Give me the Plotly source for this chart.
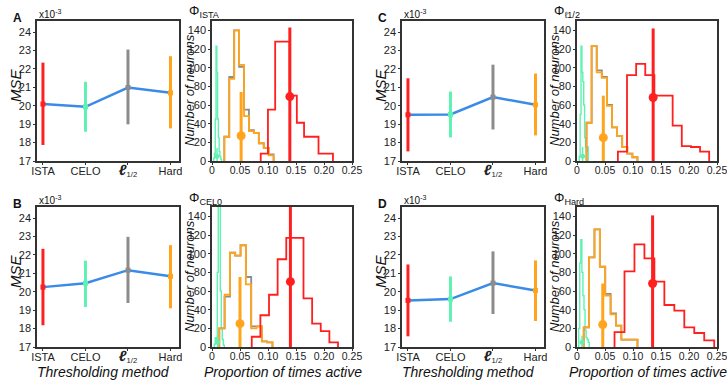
import numpy as np
import plotly.graph_objects as go

W, H = 727, 381

methods = ["ISTA", "CELO", "l1/2", "Hard"]
tick_text = ["ISTA", "CELO",
             "<span style='font-size:15px'><b><i>ℓ</i></b></span><sub>1/2</sub>", "Hard"]
colors = ["#ff1f1f", "#5ef2b2", "#8c8c8c", "#ffa41c"]
blue = "#3a8ae8"

# MSE (x10^-3): mean, bottom and top of each bar
mse_mean_A = [20.09, 19.94, 20.99, 20.70]
mse_lo_A = [17.87, 18.59, 18.99, 18.77]
mse_hi_A = [22.34, 21.30, 23.05, 22.69]
mse_mean_B = [20.25, 20.46, 21.17, 20.84]
mse_lo_B = [18.18, 19.17, 19.39, 19.10]
mse_hi_B = [22.33, 21.69, 22.98, 22.53]
mse_mean_C = [19.51, 19.53, 20.47, 20.05]
mse_lo_C = [17.52, 18.28, 18.71, 18.39]
mse_hi_C = [21.49, 20.77, 22.23, 21.75]
mse_mean_D = [19.53, 19.60, 20.47, 20.07]
mse_lo_D = [17.58, 18.37, 18.79, 18.41]
mse_hi_D = [21.48, 20.83, 22.19, 21.70]

# histograms of proportion of times active: [min, max] and counts of 10 bins
# order: ISTA, CELO, l1/2, Hard
span_A = [[0.087, 0.216], [0.003, 0.017], [0.022, 0.110], [0.022, 0.110]]
counts_A = [[8, 55, 128, 128, 70, 41, 26, 26, 8, 8],
            [3, 8, 45, 123, 95, 45, 25, 10, 5, 2],
            [26, 90, 140, 101, 55, 33, 30, 19, 14, 7],
            [26, 88, 140, 103, 48, 32, 30, 19, 14, 6]]
span_B = [[0.071, 0.225], [0.004, 0.022], [0.013, 0.108], [0.013, 0.108]]
counts_B = [[11, 34, 56, 94, 117, 117, 52, 25, 17, 5],
            [3, 10, 8, 80, 160, 160, 60, 20, 8, 2],
            [20, 54, 101, 98, 109, 75, 22, 22, 6, 5],
            [20, 56, 101, 98, 109, 67, 20, 22, 6, 5]]
span_C = [[0.073, 0.236], [0.004, 0.020], [0.017, 0.108], [0.017, 0.108]]
counts_C = [[10, 92, 104, 92, 70, 70, 38, 16, 15, 10],
            [5, 50, 123, 95, 85, 60, 25, 15, 10, 15],
            [41, 123, 97, 90, 60, 36, 27, 15, 8, 4],
            [41, 123, 95, 89, 59, 36, 27, 15, 8, 4]]
span_D = [[0.067, 0.245], [0.003, 0.022], [0.012, 0.108], [0.012, 0.108]]
counts_D = [[16, 81, 110, 95, 70, 45, 39, 21, 15, 7],
            [20, 90, 115, 80, 55, 40, 18, 10, 8, 5],
            [21, 96, 126, 86, 57, 36, 23, 8, 8, 8],
            [21, 96, 126, 86, 55, 35, 23, 8, 8, 8]]

# mean activity markers (ISTA, CELO, Hard): x, line top, dot height
act_mean_A = [0.139, 0.009, 0.052]
act_top_A = [143, 14, 74]
act_dot_A = [69, 5, 27]
act_mean_B = [0.140, 0.010, 0.050]
act_top_B = [150, 12, 75]
act_dot_B = [70, 5, 25]
act_mean_C = [0.136, 0.010, 0.047]
act_top_C = [142, 15, 70]
act_dot_C = [68, 5, 25]
act_mean_D = [0.135, 0.009, 0.046]
act_top_D = [141, 12, 68]
act_dot_D = [68, 5, 24]

phi_titles = {"A": "Φ<sub>ISTA</sub>", "B": "Φ<sub>CEL0</sub>",
              "C": "Φ<sub>ℓ1/2</sub>", "D": "Φ<sub>Hard</sub>"}

FONT = "Liberation Sans, Arial, sans-serif"

panels = {
    "A": dict(mse=(mse_mean_A, mse_lo_A, mse_hi_A), span=span_A, counts=counts_A,
              act=(act_mean_A, act_top_A, act_dot_A), ax=(1, 2), x0=0, y0=0),
    "C": dict(mse=(mse_mean_C, mse_lo_C, mse_hi_C), span=span_C, counts=counts_C,
              act=(act_mean_C, act_top_C, act_dot_C), ax=(3, 4), x0=365, y0=0),
    "B": dict(mse=(mse_mean_B, mse_lo_B, mse_hi_B), span=span_B, counts=counts_B,
              act=(act_mean_B, act_top_B, act_dot_B), ax=(5, 6), x0=0, y0=186),
    "D": dict(mse=(mse_mean_D, mse_lo_D, mse_hi_D), span=span_D, counts=counts_D,
              act=(act_mean_D, act_top_D, act_dot_D), ax=(7, 8), x0=365, y0=186),
}

fig = go.Figure()
layout = {}
annotations = []


def px(x):
    return x / W


def py(y):
    return 1 - y / H


def frame(**kw):
    d = dict(showline=True, mirror=True, linecolor="#333", linewidth=1.5,
             ticks="outside", ticklen=2, tickcolor="#333", showgrid=False,
             zeroline=False, automargin=False, ticklabeloverflow="allow",
             tickfont=dict(size=11, color="#222", family=FONT))
    d.update(kw)
    return d


def note(text, x, y, size=12, **kw):
    d = dict(text=text, x=px(x), y=py(y), xref="paper", yref="paper",
             showarrow=False, xanchor="center", yanchor="middle",
             font=dict(size=size, color="#111", family=FONT))
    d.update(kw)
    annotations.append(d)


pos = [0, 1, 2, 3]
for name, p in panels.items():
    a1, a2 = p["ax"]
    x0, y0 = p["x0"], p["y0"]
    top, bot = 21 + y0, 161 + y0
    xa1, ya1 = f"x{a1}", f"y{a1}"
    xa2, ya2 = f"x{a2}", f"y{a2}"

    # MSE panel
    mean, lo, hi = p["mse"]
    for i in range(4):
        fig.add_trace(go.Scatter(
            x=[pos[i]], y=[mean[i]], mode="markers", xaxis=xa1, yaxis=ya1,
            marker=dict(size=1, color=colors[i]),
            error_y=dict(type="data", symmetric=False, array=[hi[i] - mean[i]],
                         arrayminus=[mean[i] - lo[i]], width=0, thickness=3,
                         color=colors[i])))
    fig.add_trace(go.Scatter(x=pos, y=mean, mode="lines", xaxis=xa1, yaxis=ya1,
                             line=dict(color=blue, width=2.5)))
    fig.add_trace(go.Scatter(x=pos, y=mean, mode="markers", xaxis=xa1, yaxis=ya1,
                             marker=dict(symbol="square", size=5, color=colors)))

    layout[f"xaxis{a1}"] = frame(domain=[px(37 + x0), px(179 + x0)], anchor=ya1,
                                 range=[-0.14, 3.2], tickvals=pos, ticktext=tick_text,
                                 ticklabelstandoff=-3)
    layout[f"yaxis{a1}"] = frame(domain=[py(bot), py(top)], anchor=xa1,
                                 range=[17, 24.6], tickvals=list(range(17, 25)))

    # histogram panel
    for i in [1, 2, 3, 0]:
        lo_e, hi_e = p["span"][i]
        c = p["counts"][i]
        edges = np.linspace(lo_e, hi_e, len(c) + 1)
        xs = [edges[0]] + list(edges)
        ys = [0] + list(c) + [0]
        fig.add_trace(go.Scatter(x=xs, y=ys, mode="lines", line_shape="hv",
                                 xaxis=xa2, yaxis=ya2,
                                 line=dict(color=colors[i], width=1.8 if i != 1 else 1.4)))
    am, at, ad = p["act"]
    for j, ci in enumerate([0, 1, 3]):
        fig.add_trace(go.Scatter(x=[am[j], am[j]], y=[0, at[j]], mode="lines",
                                 xaxis=xa2, yaxis=ya2,
                                 line=dict(color=colors[ci], width=3 if ci != 1 else 1.5)))
        fig.add_trace(go.Scatter(x=[am[j]], y=[ad[j]], mode="markers",
                                 xaxis=xa2, yaxis=ya2,
                                 marker=dict(size=9 if ci != 1 else 5, color=colors[ci])))

    layout[f"xaxis{a2}"] = frame(domain=[px(212 + x0), px(352 + x0)], anchor=ya2,
                                 range=[0, 0.25], tickvals=[0, 0.05, 0.1, 0.15, 0.2, 0.25],
                                 ticktext=["0", "0.05", "0.10", "0.15", "0.20", "0.25"],
                                 ticklabelstandoff=-3,
                                 tickfont=dict(size=10.5, color="#222", family=FONT))
    layout[f"yaxis{a2}"] = frame(domain=[py(bot), py(top)], anchor=xa2,
                                 range=[0, 150], tickvals=list(range(0, 141, 20)))

    # texts
    note(f"<b>{name}</b>", 17 + x0, 18 + y0, size=12)
    note("x10<sup>-3</sup>", 37 + x0, 14 + y0, size=10, xanchor="left")
    note("<i>MSE</i>", 15 + x0, 85 + y0, size=15, textangle=-90)
    note("<i>Number of neurons</i>", 189 + x0, 90 + y0, size=13, textangle=-90)
    note(phi_titles[name], 187 + x0, 12 + y0, size=13, xanchor="left")
    if y0 > 0:
        note("<i>Thresholding method</i>", 103 + x0, 372, size=14)
        note("<i>Proportion of times active</i>", 283 + x0, 372, size=14)

fig.update_layout(
    width=W, height=H, margin=dict(l=0, r=0, t=0, b=0),
    paper_bgcolor="white", plot_bgcolor="white", showlegend=False,
    font=dict(family=FONT), annotations=annotations, **layout)

# drop the page's default body margin so the figure sits at the window corner
fig.write_html("out.html", config={"displayModeBar": False},
               post_script="document.body.style.margin='0px';")
